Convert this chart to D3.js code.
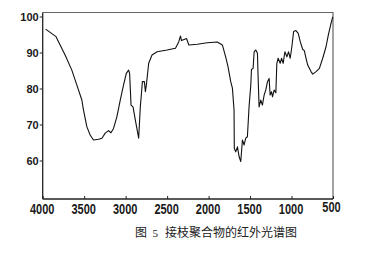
<!DOCTYPE html>
<html>
<head>
<meta charset="utf-8">
<script src="https://cdn.jsdelivr.net/npm/d3@7"></script>
<style>
html,body{margin:0;padding:0;background:#fff;}
svg{display:block;}
</style>
</head>
<body>
<svg id="chart" width="382" height="253"></svg>
<script>
// Wavenumbers (cm-1) and transmittance (%)
const wavenumbers = [3965,3839,3790,3730,3649,3589,3528,3508,3468,3428,3388,3327,3286,3246,3206,3177,3146,3105,3065,3025,
  2992,2964,2952,2935,2911,2883,2843,2823,2806,2798,2774,2762,2750,2722,2682,2621,2500,2399,2359,2339,
  2327,2287,2266,2238,2137,2016,1895,1834,1794,1766,1733,1713,1693,1690,1673,1652,1632,1612,1592,1572,
  1552,1532,1512,1491,1483,1463,1451,1431,1411,1403,1391,1371,1351,1330,1310,1290,1270,1258,1241,1229,
  1209,1189,1177,1161,1137,1120,1101,1080,1056,1036,1016,996,975,947,919,895,866,846,825,805,
  765,745,704,664,624,584,556,524,503];
const transmittance = [96.5,94.4,92.1,89.3,85.1,81.0,76.8,74.0,69.4,67.1,65.7,65.9,66.2,67.6,68.3,67.7,68.9,72.2,76.8,81.0,
  84.2,85.1,84.2,75.4,74.9,71.2,66.2,74.9,79.6,81.9,81.9,79.1,81.0,87.0,89.3,90.2,90.7,91.2,93.0,94.6,
  93.3,93.7,93.9,92.1,92.3,92.7,92.9,92.1,88.8,86.1,81.9,80.1,74.0,63.4,62.4,63.8,61.1,59.7,65.7,64.3,
  66.2,66.6,74.9,81.0,85.3,85.6,90.2,90.7,89.8,83.3,74.9,76.8,75.4,78.2,79.6,81.9,82.8,78.2,79.1,77.7,
  79.6,78.8,87.0,88.4,87.0,88.4,87.0,90.2,88.8,90.2,88.4,91.6,95.8,96.1,95.3,93.0,90.9,90.5,88.4,86.5,
  84.7,84.0,84.7,85.6,88.4,91.6,94.9,98.1,99.9];
const xTicks = [4000,3500,3000,2500,2000,1500,1000,500];
const yTicks = [100,90,80,70,60];
const captionFig = "图";
const captionNum = "5";
const captionText = "接枝聚合物的红外光谱图";

const svg = d3.select("#chart");
const pLeft = 42.7, pRight = 333, pTop = 12.5, pBottom = 199;

const x = d3.scaleLinear().domain([4000, 500]).range([pLeft, pRight]);
const y = d3.scaleLinear().domain([100, 60]).range([16.5, 160.5]);

// frame (top & right)
svg.append("path")
  .attr("d", `M${pLeft},${pTop}H${pRight}V${pBottom}`)
  .attr("fill", "none").attr("stroke", "#666").attr("stroke-width", 1.2);

// left axis
const yAxis = svg.append("g")
  .attr("transform", `translate(${pLeft},0)`)
  .call(d3.axisLeft(y).tickValues(yTicks).tickSize(3).tickPadding(1).tickFormat(d3.format("d")));
yAxis.select(".domain").attr("d", `M0,${pTop}V${pBottom}`).attr("stroke", "#222").attr("stroke-width", 1.3);
yAxis.selectAll(".tick line").attr("stroke", "#222");
yAxis.selectAll("text")
  .attr("font-family", "Liberation Sans, Arial, sans-serif")
  .attr("font-size", 11).attr("font-weight", "bold").attr("fill", "#1a1a1a");

// bottom axis
const xAxis = svg.append("g")
  .attr("transform", `translate(0,${pBottom})`)
  .call(d3.axisBottom(x).tickValues(xTicks).tickSize(-3).tickFormat(d3.format("d")));
xAxis.select(".domain").attr("d", `M${pLeft},0H${pRight}`).attr("stroke", "#222").attr("stroke-width", 1.3);
xAxis.selectAll(".tick line").attr("stroke", "#222");
xAxis.selectAll("text")
  .attr("y", null).attr("dy", null)
  .attr("transform", d => `translate(${d === 500 ? -2 : -1},${d === 500 ? 12.5 : 14.5}) scale(1,1.35)`)
  .attr("font-family", "Liberation Sans, Arial, sans-serif")
  .attr("font-size", 11).attr("font-weight", "bold").attr("fill", "#1a1a1a");

// spectrum line
const line = d3.line().x((d, i) => x(wavenumbers[i])).y(d => y(d));
svg.append("path")
  .datum(transmittance)
  .attr("d", line)
  .attr("fill", "none").attr("stroke", "#111").attr("stroke-width", 1.1)
  .attr("stroke-linejoin", "round");

// caption
const cap = svg.append("g").attr("font-family", "Noto Sans CJK SC, sans-serif").attr("fill", "#222");
cap.append("text").attr("x", 135).attr("y", 237).attr("font-size", 12).text(captionFig);
cap.append("text").attr("x", 152.5).attr("y", 237).attr("font-size", 11)
  .attr("font-family", "Liberation Serif, serif").text(captionNum);
cap.append("text").attr("x", 165).attr("y", 237).attr("font-size", 12).text(captionText);
</script>
</body>
</html>
